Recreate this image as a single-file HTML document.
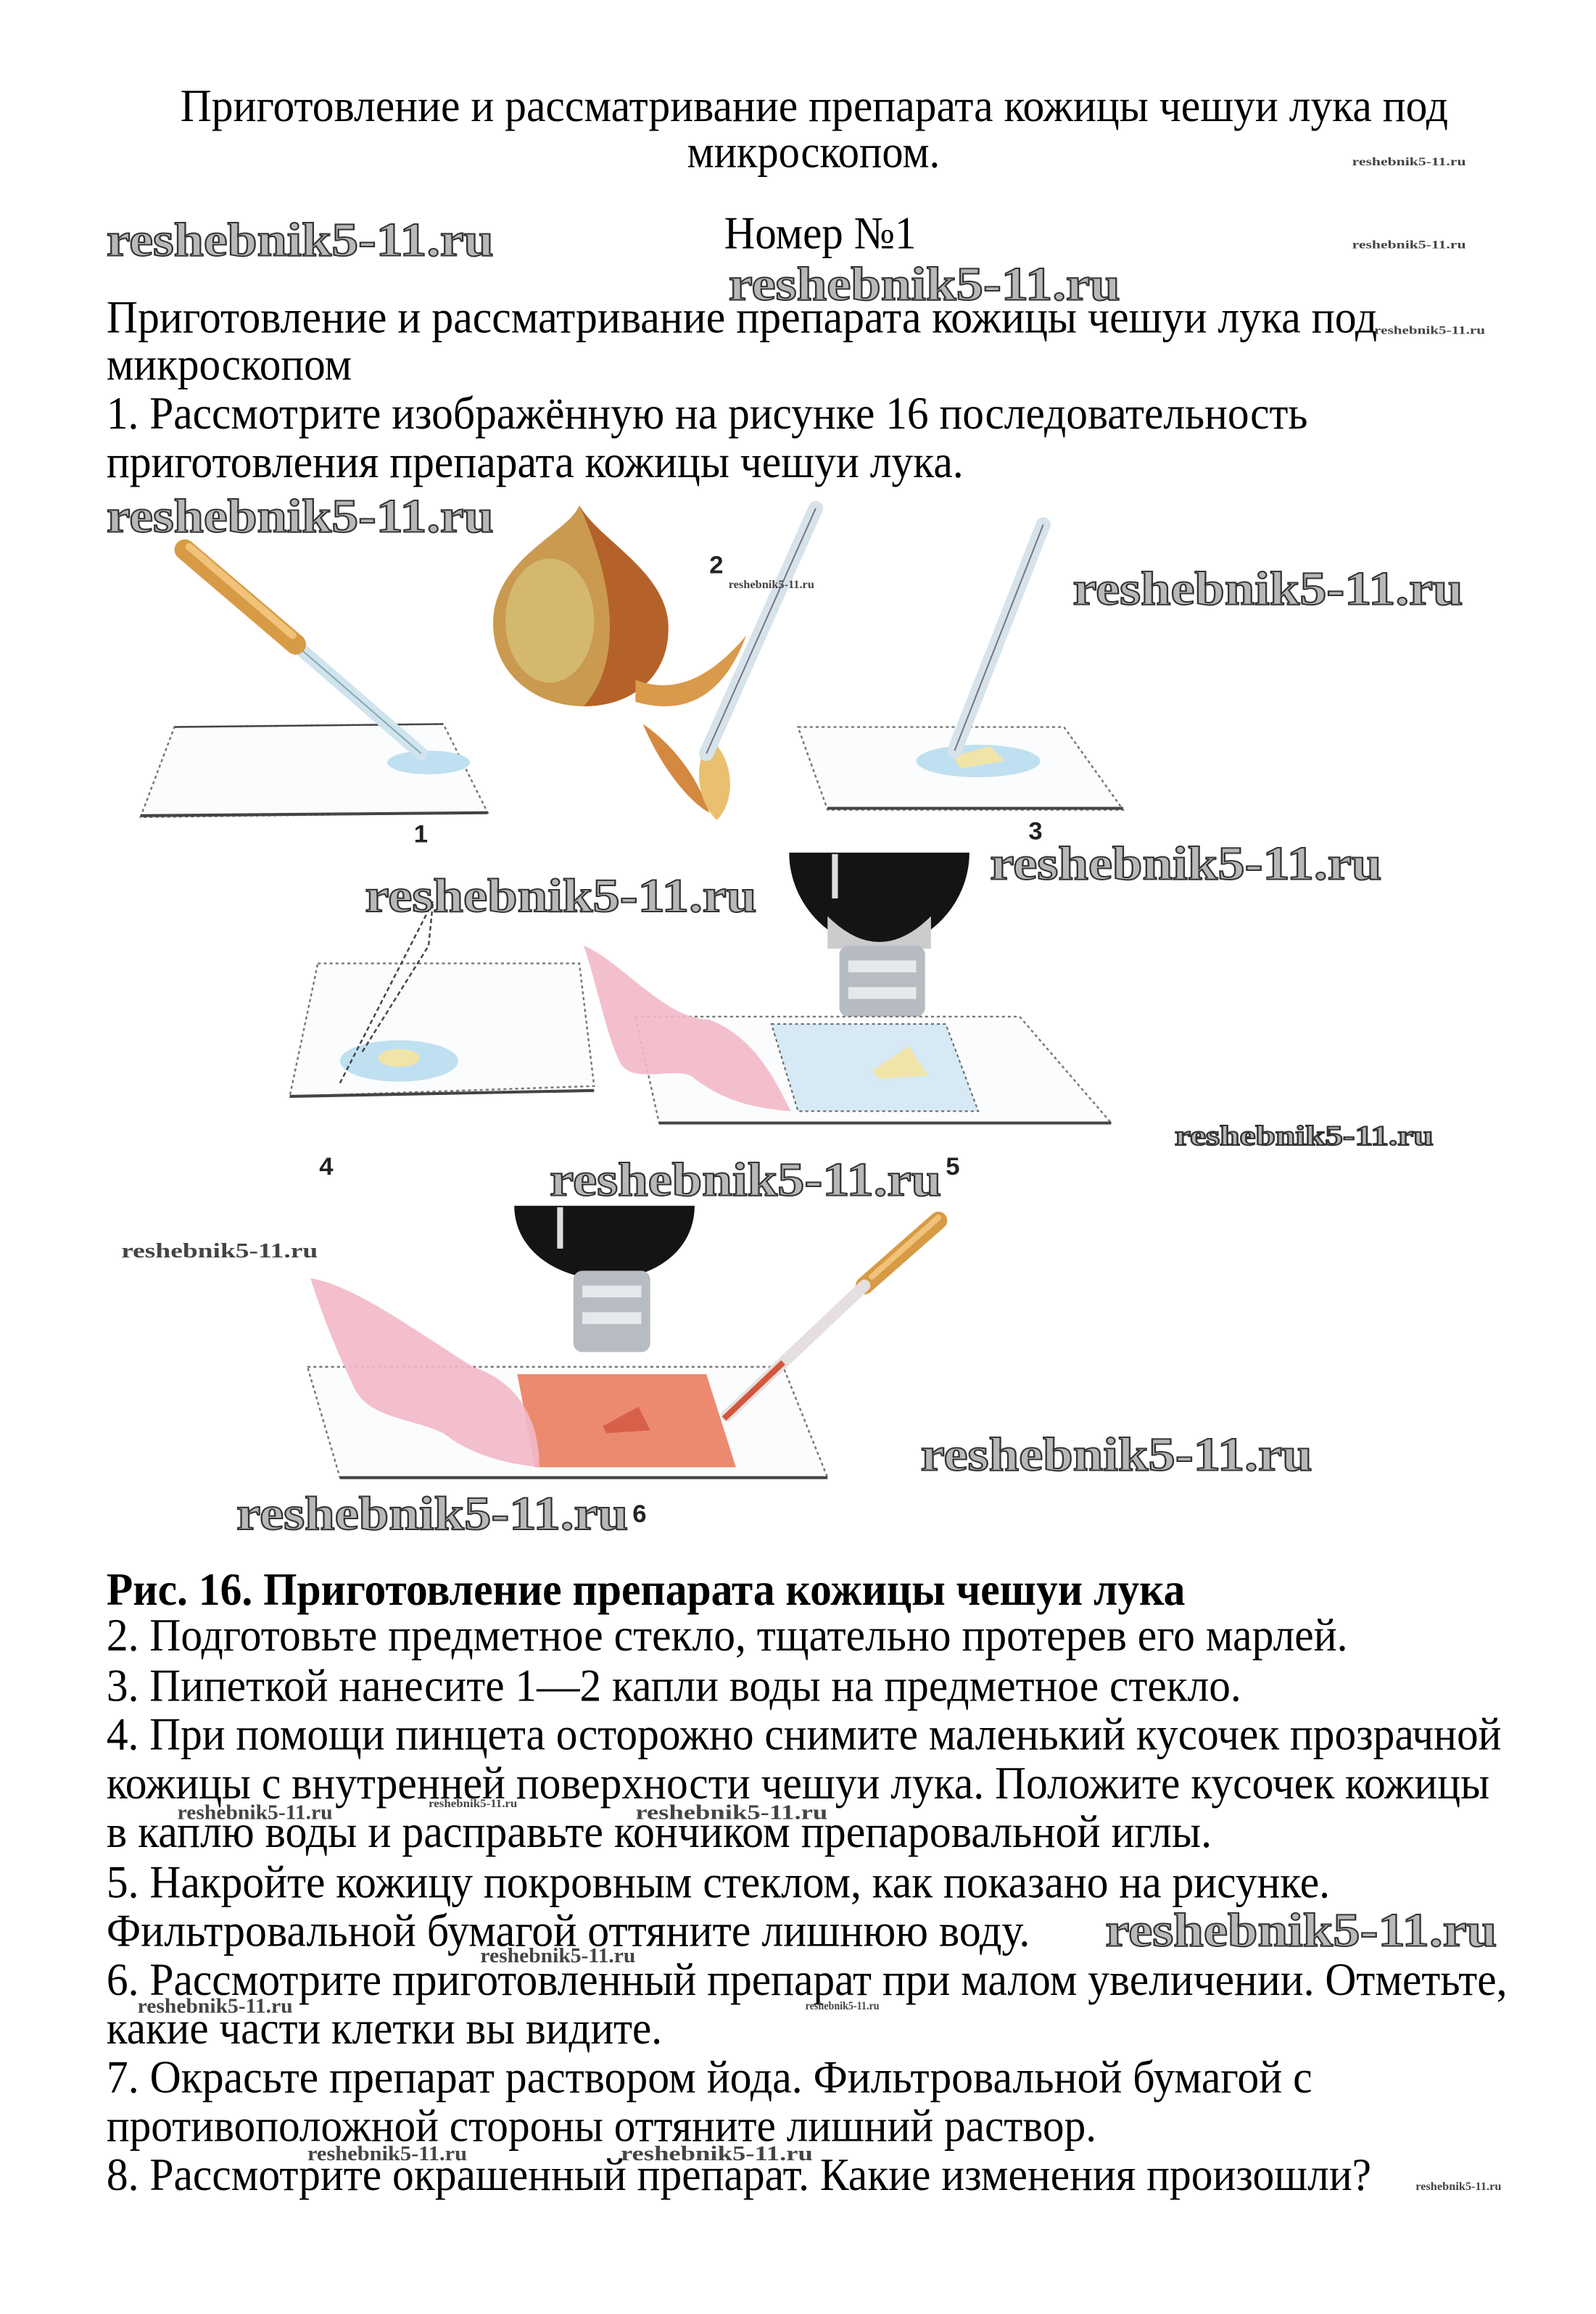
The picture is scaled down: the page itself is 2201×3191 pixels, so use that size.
<!DOCTYPE html>
<html><head><meta charset="utf-8">
<style>
html,body{margin:0;padding:0;background:#fff;}
svg{display:block;}
.t{font-family:"Liberation Serif","Noto Serif CJK SC",serif;font-size:31px;fill:#000;}
.b{font-weight:bold;}
.w{font-family:"Liberation Serif",serif;font-weight:bold;fill:#b8b8b8;stroke:#333;stroke-width:1px;}
.ws{font-family:"Liberation Serif",serif;font-weight:bold;fill:#444;}
.n{font-family:"Liberation Sans",sans-serif;font-weight:bold;font-size:17px;fill:#222;}
</style></head>
<body>
<svg width="2201" height="3191" viewBox="0 0 1080 1566" xmlns="http://www.w3.org/2000/svg">
<rect width="1080" height="1566" fill="#fff"/>

<text class="t" x="122" y="82" textLength="858" lengthAdjust="spacingAndGlyphs">Приготовление и рассматривание препарата кожицы чешуи лука под</text>
<text class="t" x="465" y="113" textLength="171" lengthAdjust="spacingAndGlyphs">микроскопом.</text>
<text class="t" x="490" y="168" textLength="130" lengthAdjust="spacingAndGlyphs">Номер №1</text>
<text class="t" x="72" y="225" textLength="860" lengthAdjust="spacingAndGlyphs">Приготовление и рассматривание препарата кожицы чешуи лука под</text>
<text class="t" x="72" y="257" textLength="166" lengthAdjust="spacingAndGlyphs">микроскопом</text>
<text class="t" x="72" y="290" textLength="813" lengthAdjust="spacingAndGlyphs">1. Рассмотрите изображённую на рисунке 16 последовательность</text>
<text class="t" x="72" y="323" textLength="580" lengthAdjust="spacingAndGlyphs">приготовления препарата кожицы чешуи лука.</text>

<text class="t b" x="72" y="1086" textLength="730" lengthAdjust="spacingAndGlyphs">Рис. 16. Приготовление препарата кожицы чешуи лука</text>
<text class="t" x="72" y="1117" textLength="840" lengthAdjust="spacingAndGlyphs">2. Подготовьте предметное стекло, тщательно протерев его марлей.</text>
<text class="t" x="72" y="1151" textLength="768" lengthAdjust="spacingAndGlyphs">3. Пипеткой нанесите 1—2 капли воды на предметное стекло.</text>
<text class="t" x="72" y="1184" textLength="944" lengthAdjust="spacingAndGlyphs">4. При помощи пинцета осторожно снимите маленький кусочек прозрачной</text>
<text class="t" x="72" y="1217" textLength="936" lengthAdjust="spacingAndGlyphs">кожицы с внутренней поверхности чешуи лука. Положите кусочек кожицы</text>
<text class="t" x="72" y="1250" textLength="748" lengthAdjust="spacingAndGlyphs">в каплю воды и расправьте кончиком препаровальной иглы.</text>
<text class="t" x="72" y="1284" textLength="828" lengthAdjust="spacingAndGlyphs">5. Накройте кожицу покровным стеклом, как показано на рисунке.</text>
<text class="t" x="72" y="1317" textLength="625" lengthAdjust="spacingAndGlyphs">Фильтровальной бумагой оттяните лишнюю воду.</text>
<text class="t" x="72" y="1350" textLength="948" lengthAdjust="spacingAndGlyphs">6. Рассмотрите приготовленный препарат при малом увеличении. Отметьте,</text>
<text class="t" x="72" y="1383" textLength="376" lengthAdjust="spacingAndGlyphs">какие части клетки вы видите.</text>
<text class="t" x="72" y="1416" textLength="816" lengthAdjust="spacingAndGlyphs">7. Окрасьте препарат раствором йода. Фильтровальной бумагой с</text>
<text class="t" x="72" y="1449" textLength="670" lengthAdjust="spacingAndGlyphs">противоположной стороны оттяните лишний раствор.</text>
<text class="t" x="72" y="1482" textLength="856" lengthAdjust="spacingAndGlyphs">8. Рассмотрите окрашенный препарат. Какие изменения произошли?</text>

<!-- Figure 1 -->
<polygon points="118,492 300,490 330,550 95,553" fill="#fbfcfd" stroke="#777" stroke-width="1.2" stroke-dasharray="2,2"/>
<line x1="95" y1="552" x2="330" y2="550" stroke="#444" stroke-width="2"/>
<line x1="118" y1="492" x2="300" y2="490" stroke="#444" stroke-width="1.2"/>
<ellipse cx="290" cy="516" rx="28" ry="8" fill="#bfe0f0"/>
<line x1="195" y1="432" x2="285" y2="510" stroke="#cfe4ee" stroke-width="9" stroke-linecap="round"/>
<line x1="195" y1="432" x2="285" y2="510" stroke="#8aa" stroke-width="1"/>
<line x1="125" y1="372" x2="200" y2="436" stroke="#d79b45" stroke-width="14" stroke-linecap="round"/>
<line x1="128" y1="370" x2="198" y2="430" stroke="#f0c27a" stroke-width="5" stroke-linecap="round"/>
<text class="n" x="280" y="570">1</text>

<!-- Onion -->
<path d="M392,342 C385,360 340,375 334,415 C330,455 362,478 395,478 C430,478 455,455 452,420 C448,385 405,365 392,342 Z" fill="#c99a50"/>
<path d="M392,342 C405,365 448,385 452,420 C455,455 430,478 395,478 C420,450 418,400 392,342 Z" fill="#b4622a"/>
<ellipse cx="372" cy="420" rx="30" ry="42" fill="#d8c47a" opacity="0.7"/>
<path d="M430,460 C455,470 480,460 505,430 C490,470 465,485 430,475 Z" fill="#d99a4c"/>
<path d="M435,490 C450,500 470,520 480,550 C470,545 450,525 435,490 Z" fill="#d58840"/>
<path d="M480,500 C495,510 500,540 485,555 C470,540 470,515 480,500 Z" fill="#e8c070"/>
<line x1="552" y1="344" x2="478" y2="510" stroke="#d7e3ea" stroke-width="10" stroke-linecap="round"/>
<line x1="552" y1="344" x2="478" y2="510" stroke="#778" stroke-width="1"/>
<text class="n" x="480" y="388">2</text>

<!-- Figure 3 -->
<polygon points="540,492 720,492 760,548 560,548" fill="#fbfcfd" stroke="#777" stroke-width="1.2" stroke-dasharray="2,2"/>
<line x1="560" y1="547" x2="760" y2="547" stroke="#444" stroke-width="2"/>
<ellipse cx="662" cy="515" rx="42" ry="11" fill="#bfe0f0"/>
<polygon points="645,512 670,505 680,515 650,520" fill="#f1e4a8"/>
<line x1="706" y1="355" x2="646" y2="508" stroke="#d7e3ea" stroke-width="10" stroke-linecap="round"/>
<line x1="706" y1="355" x2="646" y2="508" stroke="#778" stroke-width="1"/>
<text class="n" x="696" y="568">3</text>

<!-- Figure 4 -->
<polygon points="215,652 392,652 402,735 196,742" fill="#fbfcfd" stroke="#777" stroke-width="1.2" stroke-dasharray="2,2"/>
<line x1="196" y1="742" x2="402" y2="738" stroke="#444" stroke-width="2"/>
<ellipse cx="270" cy="718" rx="40" ry="14" fill="#bfe0f0"/>
<ellipse cx="270" cy="716" rx="14" ry="6" fill="#f1e4a8"/>
<polyline points="230,733 293,610 290,640 245,712" fill="none" stroke="#444" stroke-width="1.2" stroke-dasharray="3,2"/>
<text class="n" x="216" y="795">4</text>

<!-- Figure 5 -->
<path d="M534,577 L656,577 C656,610 630,640 595,642 C560,640 534,610 534,577 Z" fill="#141414"/>
<rect x="563" y="578" width="4" height="30" fill="#ddd"/>
<path d="M560,620 Q595,655 630,620 L630,642 L560,642 Z" fill="#ccc"/>
<rect x="568" y="640" width="58" height="48" rx="6" fill="#b6bcc2"/>
<rect x="574" y="650" width="46" height="8" fill="#e6e9ec"/>
<rect x="574" y="668" width="46" height="8" fill="#e6e9ec"/>
<polygon points="430,688 690,688 752,760 446,760" fill="#fbfcfd" stroke="#777" stroke-width="1.2" stroke-dasharray="2,2"/>
<line x1="446" y1="760" x2="752" y2="760" stroke="#444" stroke-width="2"/>
<polygon points="522,693 640,693 662,752 540,752" fill="#d6e9f4" stroke="#666" stroke-width="1" stroke-dasharray="2,2"/>
<polygon points="590,725 615,708 628,728 595,730" fill="#f1e4a8"/>
<path d="M395,640 C420,650 450,690 480,690 C505,700 520,720 535,752 C510,750 490,745 470,730 C460,720 430,735 420,720 C410,700 405,670 395,640 Z" fill="#f2b8c8" opacity="0.9"/>
<text class="n" x="640" y="795">5</text>

<!-- Figure 6 -->
<path d="M348,816 L470,816 C470,845 445,865 410,866 C375,865 348,845 348,816 Z" fill="#141414"/>
<rect x="377" y="817" width="4" height="28" fill="#ddd"/>
<rect x="388" y="860" width="52" height="55" rx="6" fill="#b6bcc2"/>
<rect x="394" y="870" width="40" height="8" fill="#e6e9ec"/>
<rect x="394" y="888" width="40" height="8" fill="#e6e9ec"/>
<polygon points="208,925 530,925 560,1000 230,1000" fill="#fbfcfd" stroke="#777" stroke-width="1.2" stroke-dasharray="2,2"/>
<line x1="230" y1="1000" x2="560" y2="1000" stroke="#444" stroke-width="2"/>
<polygon points="350,930 478,930 498,993 362,993" fill="#ec8a70"/>
<polygon points="408,965 432,952 440,968 410,970" fill="#d8604a"/>
<path d="M210,865 C240,870 280,900 320,925 C350,935 365,960 365,993 C340,990 320,985 300,970 C280,960 250,960 240,940 C228,915 218,890 210,865 Z" fill="#f2b8c8" opacity="0.9"/>
<line x1="635" y1="826" x2="585" y2="870" stroke="#d79b45" stroke-width="12" stroke-linecap="round"/>
<line x1="635" y1="824" x2="590" y2="864" stroke="#f0c27a" stroke-width="4" stroke-linecap="round"/>
<line x1="585" y1="870" x2="492" y2="958" stroke="#e6dfe0" stroke-width="8" stroke-linecap="round"/>
<line x1="530" y1="922" x2="490" y2="960" stroke="#d3573c" stroke-width="4"/>
<text class="n" x="428" y="1030">6</text>

<g class="w" font-size="32">
<text x="72" y="173" textLength="262" lengthAdjust="spacingAndGlyphs">reshebnik5-11.ru</text>
<text x="493" y="203" textLength="265" lengthAdjust="spacingAndGlyphs">reshebnik5-11.ru</text>
<text x="72" y="360" textLength="262" lengthAdjust="spacingAndGlyphs">reshebnik5-11.ru</text>
<text x="726" y="409" textLength="264" lengthAdjust="spacingAndGlyphs">reshebnik5-11.ru</text>
<text x="670" y="595" textLength="265" lengthAdjust="spacingAndGlyphs">reshebnik5-11.ru</text>
<text x="247" y="617" textLength="265" lengthAdjust="spacingAndGlyphs">reshebnik5-11.ru</text>
<text x="372" y="809" textLength="265" lengthAdjust="spacingAndGlyphs">reshebnik5-11.ru</text>
<text x="623" y="995" textLength="265" lengthAdjust="spacingAndGlyphs">reshebnik5-11.ru</text>
<text x="160" y="1035" textLength="265" lengthAdjust="spacingAndGlyphs">reshebnik5-11.ru</text>
<text x="748" y="1317" textLength="265" lengthAdjust="spacingAndGlyphs">reshebnik5-11.ru</text>
</g>
<g class="w" font-size="19">
<text x="795" y="775" textLength="175" lengthAdjust="spacingAndGlyphs">reshebnik5-11.ru</text>
</g>
<g class="ws" font-size="14">
<text x="82" y="851" textLength="133" lengthAdjust="spacingAndGlyphs">reshebnik5-11.ru</text>
<text x="120" y="1231" textLength="105" lengthAdjust="spacingAndGlyphs">reshebnik5-11.ru</text>
<text x="430" y="1231" textLength="130" lengthAdjust="spacingAndGlyphs">reshebnik5-11.ru</text>
<text x="325" y="1328" textLength="105" lengthAdjust="spacingAndGlyphs">reshebnik5-11.ru</text>
<text x="93" y="1362" textLength="105" lengthAdjust="spacingAndGlyphs">reshebnik5-11.ru</text>
<text x="208" y="1462" textLength="108" lengthAdjust="spacingAndGlyphs">reshebnik5-11.ru</text>
<text x="420" y="1462" textLength="130" lengthAdjust="spacingAndGlyphs">reshebnik5-11.ru</text>
</g>
<g class="ws" font-size="8">
<text x="915" y="112" textLength="77" lengthAdjust="spacingAndGlyphs">reshebnik5-11.ru</text>
<text x="915" y="168" textLength="77" lengthAdjust="spacingAndGlyphs">reshebnik5-11.ru</text>
<text x="930" y="226" textLength="75" lengthAdjust="spacingAndGlyphs">reshebnik5-11.ru</text>
<text x="493" y="398" textLength="58" lengthAdjust="spacingAndGlyphs">reshebnik5-11.ru</text>
<text x="290" y="1223" textLength="60" lengthAdjust="spacingAndGlyphs">reshebnik5-11.ru</text>
<text x="545" y="1360" textLength="50" lengthAdjust="spacingAndGlyphs">reshebnik5-11.ru</text>
<text x="958" y="1482" textLength="58" lengthAdjust="spacingAndGlyphs">reshebnik5-11.ru</text>
</g>
</svg>
</body></html>
